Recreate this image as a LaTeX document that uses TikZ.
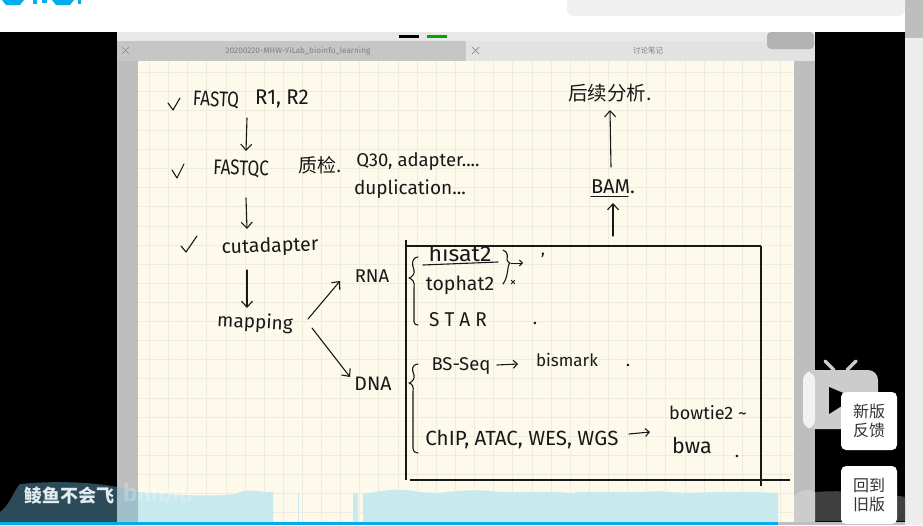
\documentclass[tikz,border=0pt]{standalone}
\usepackage{fontspec}
\setmainfont{Fira Sans}
\newfontfamily\cjk{Noto Sans CJK SC}
\usetikzlibrary{arrows.meta}
\definecolor{paper}{HTML}{FDFAEC}
\definecolor{gridc}{HTML}{EEECDE}
\definecolor{sidec}{HTML}{BEBEBE}
\definecolor{tabl}{HTML}{C6C6C6}
\definecolor{tabr}{HTML}{E2E2E2}
\definecolor{wave}{HTML}{C8EAEE}
\definecolor{barblue}{HTML}{00AEEC}
\definecolor{tealc}{HTML}{2C4A57}
\definecolor{stripc}{HTML}{9FC0CB}
\definecolor{ink}{HTML}{181818}
\tikzset{
  x=1pt,y=-1pt,
  hand/.style={font=\fontsize{#1}{#1}\selectfont,text=ink,inner sep=0pt,transform shape},
  hand/.default=17,
  pen/.style={draw=ink,line width=1.1pt,line cap=round,line join=round},
  penarrow/.style={pen,-{Straight Barb[length=6pt,width=11pt,line width=1.1pt]}},
  smallarrow/.style={draw=ink,line width=.9pt,line cap=round,-{Straight Barb[length=3pt,width=6pt,line width=.9pt]}},
  midarrow/.style={pen,-{Straight Barb[length=4pt,width=8pt,line width=1.1pt]}},
  boxline/.style={draw=ink,line width=1.2pt},
  popup/.style={fill=white,rounded corners=5pt,draw=none},
  popuptext/.style={font=\cjk\fontsize{16}{19}\selectfont,align=center,text=black!80,inner sep=0pt},
  graytext/.style={font=\fontsize{8.2}{9}\selectfont,text=black!50,inner sep=0pt}
}
\begin{document}
\begin{tikzpicture}
\useasboundingbox (0,0) rectangle (923,525);
% page regions
\fill[white] (0,0) rectangle (923,525);
\fill[black] (0,32) rectangle (905,525);
\fill[black!7] (905,0) rectangle (923,525);
\fill[sidec] (905,0) rectangle (923,38);
\begin{scope}
\clip (0,0) rectangle (923,525);
\fill[black!6,rounded corners=6pt] (567,-6) rectangle (905,16);
\end{scope}
% logo fragment
\fill[barblue] (2,0) -- (24,0) -- (20,5) -- (6,5) -- cycle;
\fill[barblue] (33,0) rectangle (37,4);
\fill[barblue] (42,0) rectangle (47,3);
\fill[barblue] (52,0) -- (74,0) -- (70,5) -- (56,5) -- cycle;
\fill[barblue] (78,0) rectangle (81,4);
% app chrome
\fill[black!9] (117,32) rectangle (815,41);
\fill[tabl] (117,41) rectangle (466,61);
\fill[tabr] (466,41) rectangle (815,61);
\fill[black!30,rounded corners=4pt] (767,32) rectangle (814,49);
\fill[black] (399,35) rectangle (419,37.5);
\fill[green!65!black] (427,35) rectangle (447,37.5);
\draw[black!45,line width=.7pt] (122,47) -- (129,54) (129,47) -- (122,54);
\draw[black!45,line width=.7pt] (472,47) -- (479,54) (479,47) -- (472,54);
\node[graytext] (tabone) at (298,51) {20200220-MHW-YiLab\_bioinfo\_learning};
\node[graytext,font=\cjk\fontsize{7.5}{8}\selectfont] (tabtwo) at (648,51) {讨论笔记};
% paper
\fill[sidec] (117,61) rectangle (815,525);
\fill[paper] (138,61) rectangle (794,525);
\foreach \gx in {149,168,187.5,206.5,226,245,264,283,302,321,340,359,378,398,417,436,455,474,493,512,532,551,570,589,608,627,646,665,685,704,723,742,761,780}
  \draw[gridc,line width=.6pt] (\gx,61) -- (\gx,525);
\foreach \gy in {72,91.5,110.5,130,149,168,187,206.5,226,245,264,283,302,321,340,359,378,398,417,436,455,474,493,512}
  \draw[gridc,line width=.6pt] (138,\gy) -- (794,\gy);
% left column
\draw[pen] (168,103) -- (173,110) -- (180,98);
\node[hand,rotate=-3,yscale=1.25] (fastq) at (216,100) {FASTQ};
\node[hand,xscale=1.2,yscale=1.25] (r) at (282,99) {R1, R2};
\draw[pen] (172,170) -- (177,178) -- (184,164);
\node[hand,rotate=-2,yscale=1.25] (fastqc) at (241,169) {FASTQC};
\draw[pen] (181,246) -- (186,252) -- (197,236);
\node[hand=19.5,rotate=2] (cut) at (270,247) {cutadapter};
\node[hand=19,rotate=-3] (map) at (255,323) {mapping};
\node[hand=18.5] (rna) at (372,276) {RNA};
\node[hand=19.5] (dna) at (373,384) {DNA};
\node[hand=19,font=\cjk\fontsize{19}{19}\selectfont] (qc) at (320,165) {质检.};
\node[hand=18.5] (qa) at (418,162) {Q30, adapter....};
\node[hand=19] (dup) at (410,189) {duplication...};
\coordinate (a1s) at (247,118);
\coordinate (a1e) at (246,151);
\coordinate (a2s) at (246,198);
\coordinate (a2e) at (247,229);
\coordinate (a3s) at (247,270);
\coordinate (a3e) at (247,308);
\coordinate (a4s) at (308,319);
\coordinate (a4e) at (340,281);
\coordinate (a5s) at (312,328);
\coordinate (a5e) at (350,377);
\draw[penarrow] (a1s) -- (a1e);
\draw[penarrow] (a2s) -- (a2e);
\draw[penarrow] (a3s) -- (a3e);
\draw[penarrow] (a4s) -- (a4e);
\draw[penarrow] (a5s) -- (a5e);
% right column
\node[hand=19,font=\cjk\fontsize{19.5}{19.5}\selectfont] (hou) at (610,93) {后续分析.};
\node[hand=20] (bam) at (613,187) {BAM.};
\draw[pen] (591,196.5) -- (628,196.5);
\coordinate (b1s) at (611,167);
\coordinate (b1e) at (610,110);
\coordinate (b2s) at (613,236);
\coordinate (b2e) at (613,203);
\draw[penarrow] (b1s) -- (b1e);
\draw[penarrow] (b2s) -- (b2e);
% box
\draw[boxline] (405,246) -- (761,246);
\draw[boxline] (406,240) -- (406,480);
\draw[boxline] (761,246) -- (761,486);
\draw[boxline] (410,480) -- (790,480);
% braces
\draw[pen] (418,257) .. controls (411,258) and (412,265) .. (414,270) .. controls (415,274) and (412,277) .. (409,278) .. controls (412,279) and (415,281) .. (414,288) -- (414,322) .. controls (414,324) and (416,325) .. (418,325);
\draw[pen] (418,364) .. controls (411,365) and (412,370) .. (414,375) .. controls (415,379) and (412,382) .. (409,383) .. controls (412,384) and (414,386) .. (413,392) -- (413,448) .. controls (413,452) and (416,453) .. (418,453);
% rna tools
\begin{scope}
\clip (420,247) rectangle (510,270);
\node[hand=22,xscale=1.05] (hisat) at (460,253) {hisat2};
\end{scope}
\draw[pen] (423,265) -- (498,262);
\node[hand=19.5] (tophat) at (460,285) {tophat2};
\node[hand=20,xscale=.95] (star) at (458,320) {S T A R};
\draw[pen] (503,250) .. controls (509,252) and (507,258) .. (507,260) .. controls (507,262) and (510,263) .. (510,263) .. controls (507,264) and (509,276) .. (503,284);
\coordinate (c1s) at (511,263);
\coordinate (c1e) at (523,263);
\draw[smallarrow] (c1s) -- (c1e);
\node[hand=13] (cross) at (513,283) {×};
\node[hand=18] (tick) at (543,260) {'};
\node[hand=18] (dota) at (535,323) {.};
% dna tools
\node[hand=18.5] (bs) at (461,366) {BS-Seq};
\node[hand=17] (bis) at (567,360) {bismark};
\node[hand=18] (dotb) at (628,365) {.};
\coordinate (c2s) at (497,365);
\coordinate (c2e) at (518,364);
\draw[midarrow] (c2s) -- (c2e);
\node[hand=20.5] (chip) at (522,440) {ChIP, ATAC, WES, WGS};
\coordinate (c3s) at (629,434);
\coordinate (c3e) at (650,432);
\draw[midarrow] (c3s) -- (c3e);
\node[hand=18] (bow) at (708,413) {bowtie2 \textasciitilde};
\node[hand=21.5] (bwa) at (692,446) {bwa};
\node[hand=18] (dotc) at (737,456) {.};
% bottom band
\fill[wave] (138,525) -- (138,492) .. controls (180,495) and (210,497) .. (236,494) .. controls (245,488) and (255,492) .. (273,492) -- (273,525) -- cycle;
\fill[wave] (298,492) rectangle (299,525);
\fill[wave] (353,493) rectangle (358,525);
\fill[wave] (363,494) .. controls (385,490) and (400,488) .. (420,492) .. controls (445,495) and (460,488) .. (490,491) .. controls (520,494) and (540,490) .. (570,493) .. controls (600,490) and (630,494) .. (660,491) .. controls (690,495) and (720,490) .. (778,493) -- (778,525) -- (363,525) -- cycle;
\fill[tealc] (0,525) -- (0,512) .. controls (10,505) and (14,490) .. (20,484) .. controls (40,482) and (80,480) .. (117,487) -- (117,525) -- cycle;
\fill[stripc] (117,487) -- (138,492) -- (138,525) -- (117,525) -- cycle;
\fill[black!75] (815,492) .. controls (840,490) and (880,492) .. (905,497) -- (905,521) -- (815,521) -- cycle;
\fill[black!20] (794,496) .. controls (800,490) and (808,488) .. (815,492) -- (815,525) -- (794,525) -- cycle;
\node[font=\cjk\bfseries\fontsize{18}{18}\selectfont,text=white!70!stripc,inner sep=0pt] (user) at (69,496) {鲮鱼不会飞};
\node[font=\bfseries\fontsize{24}{24}\selectfont,text=white,opacity=.22,inner sep=0pt] (wm) at (158,492) {bilibili};
\fill[barblue] (0,521.5) rectangle (778,525);
\fill[black!25] (778,521.5) rectangle (905,525);
% right widgets
\fill[black!20,rounded corners=10pt] (803,370) rectangle (878,429);
\fill[white,opacity=.75,rounded corners=8pt] (803,372) rectangle (815,428);
\draw[black!20,line width=3.5pt,line cap=round] (825,361) -- (834,370) (856,361) -- (847,370);
\fill[black] (829,387) -- (829,414) -- (848,402) -- (848,395) -- cycle;
\fill[popup] (841,392) rectangle (897,450);
\fill[popup] (841,466) rectangle (897,524);
\node[popuptext] (xin) at (869,421) {新版\\反馈};
\node[popuptext] (hui) at (869,495) {回到\\旧版};
\end{tikzpicture}
\end{document}
